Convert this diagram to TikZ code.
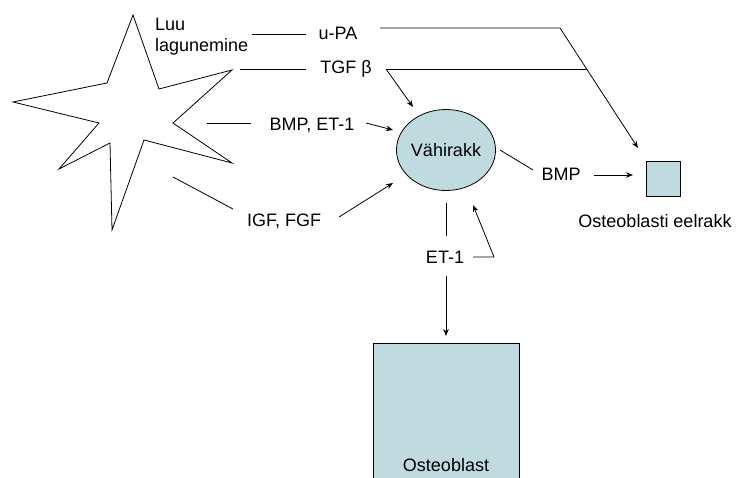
\documentclass[tikz,border=0pt]{standalone}
\usepackage{fontspec}
\setmainfont{Liberation Sans}
\usetikzlibrary{arrows.meta,shapes.geometric}
\definecolor{cellfill}{RGB}{192,219,224}
\begin{document}
\begin{tikzpicture}[x=1pt,y=-1pt,
  lbl/.style={inner sep=0pt,font=\fontsize{18}{21}\selectfont},
  conn/.style={line width=0.8pt},
  arr/.style={line width=0.8pt,-{Stealth[length=7pt,width=5.5pt]}}]
\useasboundingbox (0,0) rectangle (737,478);
\clip (0,0) rectangle (737,478);
% star (bone)
\draw[line width=0.8pt] (133,15) -- (159,89) -- (232,70) -- (173,123) -- (232,163) -- (144,140)
  -- (112,230) -- (110,143) -- (59,169) -- (99,123) -- (13,102) -- (107,83) -- cycle;
% labels
\node[lbl,align=left,anchor=west] (luu) at (155,37) {Luu\\lagunemine};
\node[lbl] (upa) at (338,33) {u-PA};
\node[lbl] (tgf) at (346,69) {TGF β};
\node[lbl] (bmpet) at (312,125) {BMP, ET-1};
\node[lbl] (igf) at (284,221) {IGF, FGF};
\node[lbl] (bmp) at (561,174) {BMP};
\node[lbl] (et) at (445,257) {ET-1};
% cells
\node[draw,line width=0.8pt,fill=cellfill,ellipse,minimum width=94pt,minimum height=81pt,inner sep=0pt,
  font=\fontsize{18}{21}\selectfont] (cancer) at (446,150) {Vähirakk};
\node[draw,line width=1pt,fill=cellfill,minimum width=34pt,minimum height=35pt,inner sep=0pt] (pre) at (663,179.5) {};
\node[lbl] (prelbl) at (655,221) {Osteoblasti eelrakk};
\node[draw,line width=1pt,fill=cellfill,minimum width=146pt,minimum height=160pt,inner sep=0pt,anchor=north] (ob) at (446,343) {};
\node[lbl] (oblbl) at (446,465) {Osteoblast};
% coordinates
\coordinate (a1) at (252,34); \coordinate (a2) at (306,34);
\coordinate (b1) at (380,28); \coordinate (b2) at (560,28); \coordinate (b3) at (638,148);
\coordinate (c1) at (240,69); \coordinate (c2) at (306,69);
\coordinate (d1) at (386,69); \coordinate (d2) at (587,69); \coordinate (d3) at (413,107);
\coordinate (e1) at (207,123); \coordinate (e2) at (251,123);
\coordinate (e3) at (366,123); \coordinate (e4) at (393,130);
\coordinate (f1) at (173,177); \coordinate (f2) at (233,209);
\coordinate (f3) at (339,217); \coordinate (f4) at (393,183);
\coordinate (g1) at (500,150); \coordinate (g2) at (533,170);
\coordinate (g3) at (594,175); \coordinate (g4) at (633,175);
\coordinate (h1) at (446,203); \coordinate (h2) at (446,236);
\coordinate (h3) at (473,257); \coordinate (h4) at (494,257); \coordinate (h5) at (473,205);
\coordinate (h6) at (446,276); \coordinate (h7) at (446,336);
% connectors
\draw[conn] (a1) -- (a2);
\draw[arr] (b1) -- (b2) -- (b3);
\draw[conn] (c1) -- (c2);
\draw[conn] (d1) -- (d2);
\draw[arr] (d1) -- (d3);
\draw[conn] (e1) -- (e2);
\draw[arr] (e3) -- (e4);
\draw[conn] (f1) -- (f2);
\draw[arr] (f3) -- (f4);
\draw[conn] (g1) -- (g2);
\draw[arr] (g3) -- (g4);
\draw[conn] (h1) -- (h2);
\draw[arr] (h3) -- (h4) -- (h5);
\draw[arr] (h6) -- (h7);
\end{tikzpicture}
\end{document}
